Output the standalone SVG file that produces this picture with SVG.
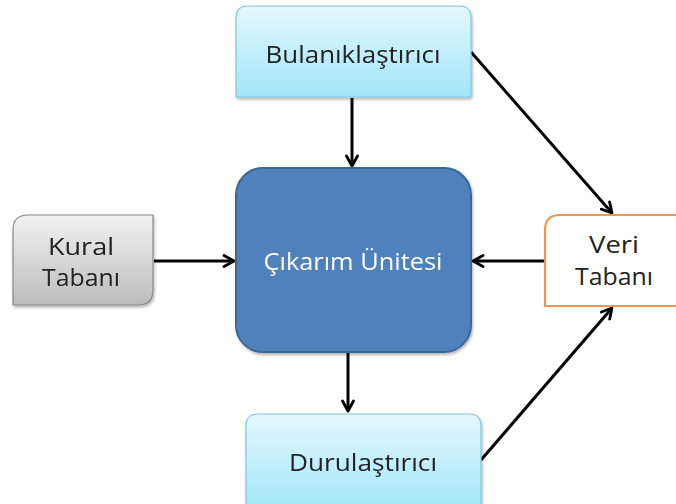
<svg xmlns="http://www.w3.org/2000/svg" width="676" height="504" viewBox="0 0 676 504">
<defs>
<linearGradient id="gBlue" x1="0" y1="0" x2="0" y2="1">
<stop offset="0" stop-color="#e4f8fe"/>
<stop offset="1" stop-color="#a2e5fa"/>
</linearGradient>
<linearGradient id="gGray" x1="0" y1="0" x2="0" y2="1">
<stop offset="0" stop-color="#f2f2f2"/>
<stop offset="1" stop-color="#bcbcbc"/>
</linearGradient>
<marker id="arr" viewBox="0 0 14 14" refX="12" refY="7" markerWidth="14" markerHeight="14" markerUnits="userSpaceOnUse" orient="auto">
<path d="M2,1.5 L12,7 L2,12.5" fill="none" stroke="#000" stroke-width="2.8" stroke-linecap="round" stroke-linejoin="round"/>
</marker>
<filter id="sh" x="-10%" y="-10%" width="120%" height="130%">
<feDropShadow dx="1" dy="2" stdDeviation="1.5" flood-color="#000" flood-opacity="0.3"/>
</filter>
</defs>
<style>
.lbl{font-family:"Open Sans","Liberation Sans",sans-serif;font-size:24.5px;fill:#222;text-anchor:middle}
.lblw{font-family:"Open Sans","Liberation Sans",sans-serif;font-size:24.5px;fill:#fff;text-anchor:middle}
.conn{stroke:#000;stroke-width:3;fill:none;marker-end:url(#arr)}
</style>
<g id="connectors">
<line class="conn" x1="352" y1="98" x2="352" y2="166"/>
<line class="conn" x1="154" y1="261" x2="234" y2="261"/>
<line class="conn" x1="545" y1="261" x2="473" y2="261"/>
<line class="conn" x1="348" y1="353" x2="348" y2="411"/>
<line class="conn" x1="471" y1="52" x2="612" y2="213"/>
<line class="conn" x1="481" y1="460" x2="612" y2="308"/>
</g>
<g id="bulaniklastirici" filter="url(#sh)">
<path d="M248,6 H459 Q471,6 471,18 V95 Q471,97 469,97 H238 Q236,97 236,95 V18 Q236,6 248,6 Z" fill="url(#gBlue)" stroke="#7ec8de" stroke-width="1.2"/>
<text class="lbl" x="353" y="63" textLength="175" lengthAdjust="spacingAndGlyphs">Bulanıklaştırıcı</text>
</g>
<g id="cikarim" filter="url(#sh)">
<rect x="236" y="168" width="235" height="184" rx="27" fill="#4f81bd" stroke="#3a6795" stroke-width="2"/>
<text class="lblw" x="353" y="270" textLength="179" lengthAdjust="spacingAndGlyphs">Çıkarım Ünitesi</text>
</g>
<g id="kural" filter="url(#sh)">
<path d="M28,215 H153 V290 Q153,305 138,305 H13 V230 Q13,215 28,215 Z" fill="url(#gGray)" stroke="#888" stroke-width="1.2"/>
<text class="lbl" x="81" y="255" textLength="66" lengthAdjust="spacingAndGlyphs">Kural</text>
<text class="lbl" x="81" y="286" textLength="78" lengthAdjust="spacingAndGlyphs">Tabanı</text>
</g>
<g id="veri">
<path d="M560,215 H680 V306 H545 V230 Q545,215 560,215 Z" fill="#fff" stroke="#f79646" stroke-width="2.2"/>
<text class="lbl" x="614" y="253" textLength="50" lengthAdjust="spacingAndGlyphs">Veri</text>
<text class="lbl" x="614" y="285" textLength="78" lengthAdjust="spacingAndGlyphs">Tabanı</text>
</g>
<g id="durulastirici" filter="url(#sh)">
<path d="M258,414 H469 Q481,414 481,426 V510 H246 V426 Q246,414 258,414 Z" fill="url(#gBlue)" stroke="#7ec8de" stroke-width="1.2"/>
<text class="lbl" x="363" y="471" textLength="148" lengthAdjust="spacingAndGlyphs">Durulaştırıcı</text>
</g>
</svg>
